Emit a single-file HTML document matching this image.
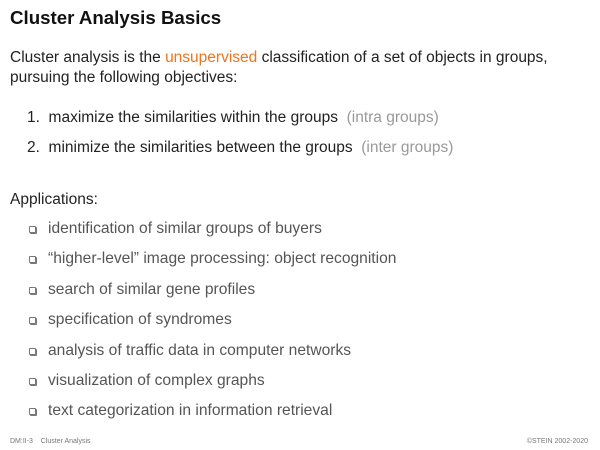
<!DOCTYPE html>
<html><head><meta charset="utf-8"><style>
body{margin:0;width:600px;height:450px;background:#fff;position:relative;overflow:hidden;font-family:"Liberation Sans",Arial,sans-serif;color:#222}
.t{position:absolute;white-space:nowrap;line-height:1}
.h{font-weight:bold;font-size:18.7px;left:10px;top:9px;color:#111}
.b{font-size:15.5px}
.g{color:#999}
.o{color:#e8761e}
.a{font-size:15.6px;color:#555;left:48px}
.sq{position:absolute;left:29px;width:5px;height:5px;border:1px solid #777;border-radius:1px;box-shadow:1px 1px 0 #777}
.f{font-size:7px;color:#777;top:438px}
</style></head><body>
<div class="t h">Cluster Analysis Basics</div>
<div class="t b" style="left:10px;top:50px">Cluster analysis is the <span class="o">unsupervised</span> classification of a set of objects in groups,</div>
<div class="t b" style="left:10px;top:70px">pursuing the following objectives:</div>
<div class="t b" style="left:27px;top:110px">1.&nbsp;&nbsp;maximize the similarities within the groups&nbsp;&nbsp;<span class="g">(intra groups)</span></div>
<div class="t b" style="left:27px;top:140px">2.&nbsp;&nbsp;minimize the similarities between the groups&nbsp;&nbsp;<span class="g">(inter groups)</span></div>
<div class="t b" style="left:10px;top:192px">Applications:</div>
<div class="sq" style="top:226px"></div><div class="t a" style="top:221px">identification of similar groups of buyers</div>
<div class="sq" style="top:256px"></div><div class="t a" style="top:251px">“higher-level” image processing: object recognition</div>
<div class="sq" style="top:287px"></div><div class="t a" style="top:282px">search of similar gene profiles</div>
<div class="sq" style="top:317px"></div><div class="t a" style="top:312px">specification of syndromes</div>
<div class="sq" style="top:348px"></div><div class="t a" style="top:343px">analysis of traffic data in computer networks</div>
<div class="sq" style="top:378px"></div><div class="t a" style="top:373px">visualization of complex graphs</div>
<div class="sq" style="top:408px"></div><div class="t a" style="top:403px">text categorization in information retrieval</div>
<div class="t f" style="left:10px">DM:II-3&nbsp;&nbsp;&nbsp;&nbsp;Cluster Analysis</div>
<div class="t f" style="right:12px">©STEIN 2002-2020</div>
</body></html>
